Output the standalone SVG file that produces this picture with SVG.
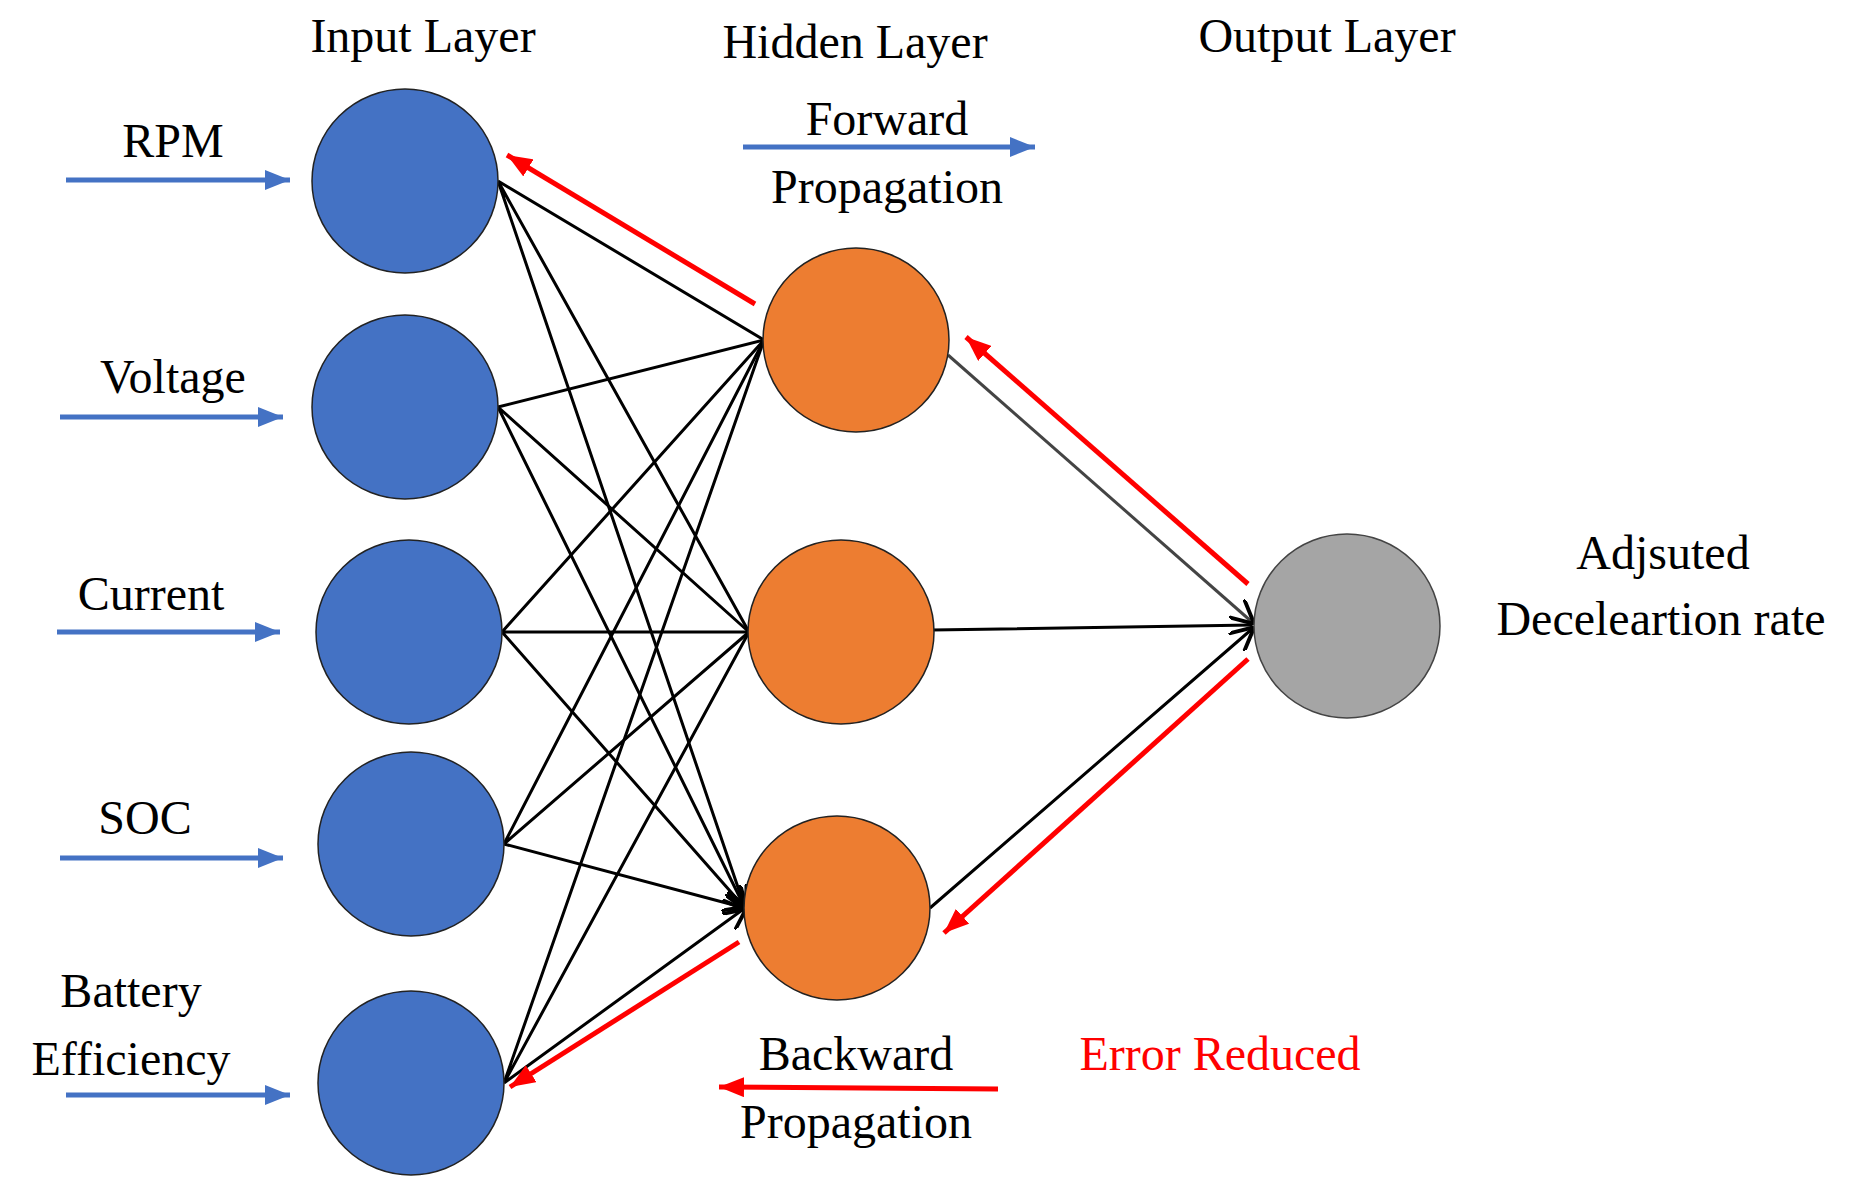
<svg xmlns="http://www.w3.org/2000/svg" width="1860" height="1198" viewBox="0 0 1860 1198">
<defs>
<style>
text{font-family:"Liberation Serif","Times New Roman",serif;font-size:48px;text-anchor:middle;fill:#000}
.in{fill:#4472C4;stroke:#222;stroke-width:1.5}
.hid{fill:#ED7D31;stroke:#222;stroke-width:1.5}
.out{fill:#A5A5A5;stroke:#444;stroke-width:1.5}
.k{stroke:#000;stroke-width:3;fill:none;marker-end:url(#ak)}
.b{stroke:#4472C4;stroke-width:5;fill:none;marker-end:url(#ab)}
.r{stroke:#FF0000;stroke-width:5;fill:none;marker-end:url(#ar)}
</style>
<marker id="ak" markerWidth="8" markerHeight="8" refX="7" refY="4" orient="auto" markerUnits="strokeWidth"><path d="M0,0 L8,4 L0,8" fill="none" stroke="#000" stroke-width="1.3"/></marker>
<marker id="ab" markerWidth="5" markerHeight="4" refX="5" refY="2" orient="auto" markerUnits="strokeWidth"><path d="M0,0 L5,2 L0,4 Z" fill="#4472C4"/></marker>
<marker id="ar" markerWidth="5" markerHeight="4" refX="5" refY="2" orient="auto" markerUnits="strokeWidth"><path d="M0,0 L5,2 L0,4 Z" fill="#FF0000"/></marker>
</defs>
<g id="connectors">
<path class="k" d="M498,181 L764,340 M498,181 L749,632 M498,181 L745,908"/>
<path class="k" d="M498,407 L764,340 M498,407 L749,632 M498,407 L745,908"/>
<path class="k" d="M502,632 L764,340 M502,632 L749,632 M502,632 L745,908"/>
<path class="k" d="M504,844 L764,340 M504,844 L749,632 M504,844 L745,908"/>
<path class="k" d="M504,1083 L764,340 M504,1083 L749,632 M504,1083 L745,908"/>
<path class="k" style="stroke:#444" d="M948,355 L1252,622"/>
<path class="k" d="M932,630 L1252,625 M930,908 L1252,629"/>
<path class="b" d="M66,180 L290,180"/>
<path class="b" d="M60,417 L283,417"/>
<path class="b" d="M57,632 L280,632"/>
<path class="b" d="M60,858 L283,858"/>
<path class="b" d="M66,1095 L290,1095"/>
<path class="b" d="M743,147 L1035,147"/>
<path class="r" d="M755,304 L507,155"/>
<path class="r" d="M1248,584 L966,337"/>
<path class="r" d="M1248,659 L944,933"/>
<path class="r" d="M739,942 L510,1087"/>
<path class="r" d="M998,1089 L719,1087"/>
</g>
<g id="in1"><ellipse class="in" cx="405" cy="181" rx="93" ry="92"/></g>
<g id="in2"><ellipse class="in" cx="405" cy="407" rx="93" ry="92"/></g>
<g id="in3"><ellipse class="in" cx="409" cy="632" rx="93" ry="92"/></g>
<g id="in4"><ellipse class="in" cx="411" cy="844" rx="93" ry="92"/></g>
<g id="in5"><ellipse class="in" cx="411" cy="1083" rx="93" ry="92"/></g>
<g id="h1"><ellipse class="hid" cx="856" cy="340" rx="93" ry="92"/></g>
<g id="h2"><ellipse class="hid" cx="841" cy="632" rx="93" ry="92"/></g>
<g id="h3"><ellipse class="hid" cx="837" cy="908" rx="93" ry="92"/></g>
<g id="o1"><ellipse class="out" cx="1347" cy="626" rx="93" ry="92"/></g>
<g id="labels">
<text x="423" y="52">Input Layer</text>
<text x="855" y="58">Hidden Layer</text>
<text x="1327" y="52">Output Layer</text>
<text x="887" y="135">Forward</text>
<text x="887" y="203">Propagation</text>
<text x="173" y="157">RPM</text>
<text x="173" y="393">Voltage</text>
<text x="151" y="610">Current</text>
<text x="145" y="834">SOC</text>
<text x="131" y="1007">Battery</text>
<text x="131" y="1075">Efficiency</text>
<text x="1663" y="569">Adjsuted</text>
<text x="1661" y="635">Deceleartion rate</text>
<text x="856" y="1070">Backward</text>
<text x="856" y="1138">Propagation</text>
<text x="1220" y="1070" style="fill:#FF0000">Error Reduced</text>
</g>
</svg>
